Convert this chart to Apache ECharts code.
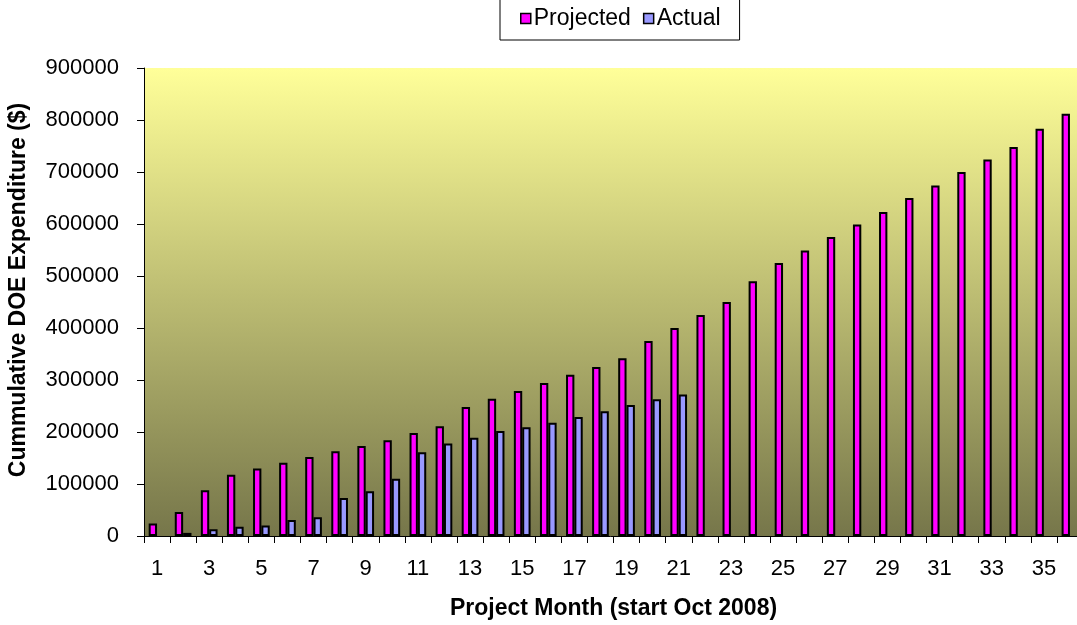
<!DOCTYPE html>
<html>
<head>
<meta charset="utf-8">
<script src="https://cdn.jsdelivr.net/npm/echarts@6/dist/echarts.min.js"></script>
<style>
  html, body { margin: 0; padding: 0; background: #ffffff; }
  #chart { width: 1077px; height: 625px; }
</style>
</head>
<body>
<div id="chart"></div>
<script>
// Project months 1..36
const months = Array.from({ length: 36 }, (_, i) => String(i + 1));

// Cumulative projected DOE expenditure per month ($)
const projected = [
  24000, 46000, 88000, 118000, 130000, 141000, 152000, 163000, 173000, 184000,
  198000, 211000, 248000, 264000, 279000, 294000, 310000, 325000, 342000, 375000,
  400000, 425000, 450000, 490000, 525000, 549000, 575000, 599000, 623000, 650000,
  674000, 700000, 724000, 748000, 783000, 812000
];

// Cumulative actual DOE expenditure reported so far ($)
const actual = [
  null, 6000, 13000, 18000, 20000, 31000, 36000, 73000, 86000, 110000,
  161000, 178000, 189000, 202000, 209000, 218000, 229000, 240000, 252000, 263000,
  272000
];

// Y axis ticks
const yMin = 0, yMax = 900000, yStep = 100000;

const font = 'Liberation Sans, Arial, sans-serif';

const chart = echarts.init(document.getElementById('chart'), null, { renderer: 'canvas' });
chart.setOption({
  animation: false,
  backgroundColor: '#ffffff',
  legend: {
    left: 500,
    top: -13,
    padding: [20, 19, 10, 20],
    borderColor: '#000000',
    borderWidth: 1,
    itemWidth: 10,
    itemHeight: 10,
    itemGap: 12,
    icon: 'rect',
    itemStyle: { borderColor: '#000000', borderWidth: 1.5 },
    textStyle: { fontFamily: font, fontSize: 23, color: '#000000', padding: [0, 0, 0, -2] },
    data: ['Projected', 'Actual']
  },
  grid: {
    left: 144,
    width: 939,
    top: 68,
    bottom: 89,
    outerBoundsMode: 'none',
    show: true,
    borderWidth: 0,
    backgroundColor: new echarts.graphic.LinearGradient(0, 0, 0, 1, [
      { offset: 0, color: '#ffff99' },
      { offset: 1, color: '#76764a' }
    ])
  },
  xAxis: {
    type: 'category',
    data: months,
    boundaryGap: true,
    name: 'Project Month (start Oct 2008)',
    nameLocation: 'middle',
    nameGap: 61,
    nameTextStyle: { fontFamily: font, fontSize: 23, fontWeight: 'bold', color: '#000000' },
    axisLine: { show: true, lineStyle: { color: '#000000', width: 1 } },
    axisTick: { show: true, interval: 0, length: 7, lineStyle: { color: '#000000' } },
    axisLabel: { interval: 1, margin: 22, fontFamily: font, fontSize: 22, color: '#000000' },
    splitLine: { show: false }
  },
  yAxis: {
    type: 'value',
    min: yMin,
    max: yMax,
    interval: yStep,
    name: 'Cummulative DOE Expenditure ($)',
    nameLocation: 'middle',
    nameRotate: 90,
    nameGap: 114,
    nameTextStyle: {
      fontFamily: font, fontSize: 23, fontWeight: 'bold', color: '#000000',
      padding: [0, 0, 0, 24]
    },
    axisLine: { show: true, lineStyle: { color: '#000000', width: 1 } },
    axisTick: { show: true, length: 7, lineStyle: { color: '#000000' } },
    axisLabel: {
      margin: 25, fontFamily: font, fontSize: 22, color: '#000000',
      formatter: v => String(v)
    },
    splitLine: { show: false }
  },
  series: [
    {
      name: 'Projected',
      type: 'bar',
      data: projected,
      barGap: '0%',
      barCategoryGap: '36%',
      itemStyle: { color: '#ff00ff', borderColor: '#000000', borderWidth: 2 }
    },
    {
      name: 'Actual',
      type: 'bar',
      data: actual,
      itemStyle: { color: '#9999ff', borderColor: '#000000', borderWidth: 2 }
    }
  ]
});
</script>
</body>
</html>
